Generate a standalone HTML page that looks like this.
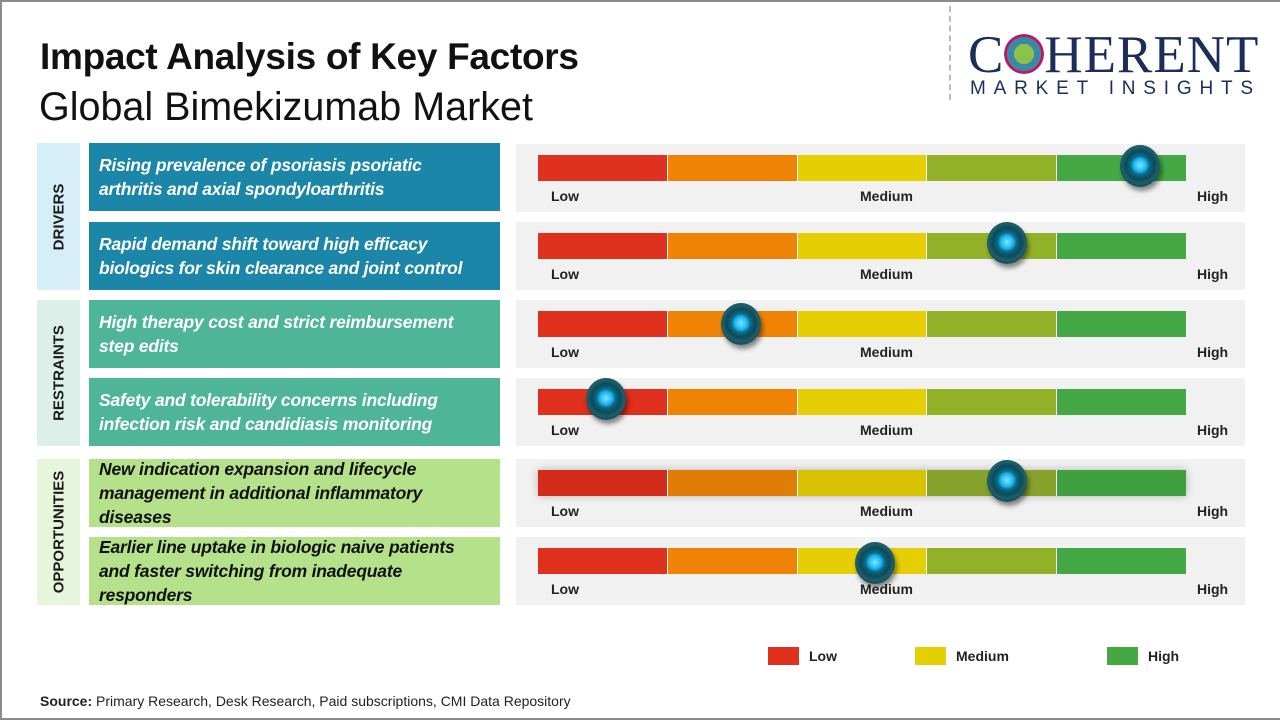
<!DOCTYPE html>
<html><head><meta charset="utf-8"><style>
*{margin:0;padding:0;box-sizing:border-box}
body{width:1280px;height:720px;background:#fff;position:relative;overflow:hidden;font-family:"Liberation Sans",sans-serif}
.frame{position:absolute;left:0;top:0;width:1280px;height:720px;border:2px solid #8a8a8a;border-right:none}
.a{position:absolute}
.title{left:40px;top:36px;font-size:37px;font-weight:bold;color:#111;letter-spacing:-0.3px}
.sub{left:39px;top:85px;font-size:39.5px;color:#111}
.cat{position:absolute;left:37px;width:43px}
.cat span{position:absolute;left:50%;top:50%;transform:translate(-50%,-50%) rotate(-90deg);font-weight:bold;font-size:15px;color:#1a1a1a;white-space:nowrap}
.fac{position:absolute;left:89px;width:411px;height:68px;font-weight:bold;font-style:italic;font-size:17.5px;line-height:24px;padding-left:10px;display:flex;align-items:center;letter-spacing:-0.2px}
.panel{position:absolute;left:516px;width:729px;height:68px;background:#f1f1f1}
.bar{position:absolute;left:22px;top:11px;height:26px;width:648px;display:flex}
.bar div{flex:1;border-right:1px solid #fff}
.bar div:last-child{border-right:none}
.lb{position:absolute;top:44px;font-size:14px;font-weight:bold;color:#222}
.knob{position:absolute;width:40px;height:42px;border-radius:50%;background:radial-gradient(circle at 50% 48%,#7fe6ff 0,#18b3ef 22%,#0a6b8a 32%,#0d4a58 48%,#1f5f6c 62%,#0c3a44 80%,#082a30 100%);box-shadow:2px 4px 5px rgba(0,0,0,.45)}
.leg{position:absolute;top:647px;width:31px;height:18px}
.lt{position:absolute;top:648px;font-size:14px;font-weight:bold;color:#222}
</style></head><body>
<div class="frame"></div>
<div class="a title">Impact Analysis of Key Factors</div>
<div class="a sub">Global Bimekizumab Market</div>
<div class="a" style="left:949px;top:6px;height:94px;border-left:2px dashed #bbb"></div>
<div class="a" style="left:968px;top:29px;font-family:'Liberation Serif',serif;font-size:53px;color:#1b2d5c;letter-spacing:1px;line-height:52px">C<span style="display:inline-block;width:40px;height:40px;vertical-align:-2px;border-radius:50%;background:radial-gradient(circle,#8bc34a 0 35%,#3a87a8 36% 60%,#c2185b 61% 70%,transparent 71%)"></span>HERENT</div>
<div class="a" style="left:970px;top:78px;font-size:19px;color:#1b2d5c;letter-spacing:7.8px">MARKET INSIGHTS</div>

<div class="cat" style="top:143px;height:147px;background:#d6eef8"><span>DRIVERS</span></div>
<div class="cat" style="top:300px;height:146px;background:#dcefe9"><span>RESTRAINTS</span></div>
<div class="cat" style="top:459px;height:146px;background:#e7f5dc"><span>OPPORTUNITIES</span></div>

<div class="fac" style="top:143px;background:#1b86a8;color:#fff">Rising prevalence of psoriasis psoriatic<br>arthritis and axial spondyloarthritis</div>
<div class="fac" style="top:222px;background:#1b86a8;color:#fff">Rapid demand shift toward high efficacy<br>biologics for skin clearance and joint control</div>
<div class="fac" style="top:300px;background:#4eb597;color:#fff">High therapy cost and strict reimbursement<br>step edits</div>
<div class="fac" style="top:378px;background:#4eb597;color:#fff">Safety and tolerability concerns including<br>infection risk and candidiasis monitoring</div>
<div class="fac" style="top:459px;background:#b6e18b;color:#111">New indication expansion and lifecycle<br>management in additional inflammatory<br>diseases</div>
<div class="fac" style="top:537px;background:#b6e18b;color:#111">Earlier line uptake in biologic naive patients<br>and faster switching from inadequate<br>responders</div>

<div class="panel" style="top:144px"><div class="bar"><div style="background:#e0301e"></div><div style="background:#ee8305"></div><div style="background:#e6ce04"></div><div style="background:#93b128"></div><div style="background:#44a845"></div></div><span class="lb" style="left:35px">Low</span><span class="lb" style="left:344px">Medium</span><span class="lb" style="left:681px">High</span><div class="knob" style="left:604px;top:1px"></div></div>
<div class="panel" style="top:222px"><div class="bar"><div style="background:#e0301e"></div><div style="background:#ee8305"></div><div style="background:#e6ce04"></div><div style="background:#93b128"></div><div style="background:#44a845"></div></div><span class="lb" style="left:35px">Low</span><span class="lb" style="left:344px">Medium</span><span class="lb" style="left:681px">High</span><div class="knob" style="left:471px;top:0px"></div></div>
<div class="panel" style="top:300px"><div class="bar"><div style="background:#e0301e"></div><div style="background:#ee8305"></div><div style="background:#e6ce04"></div><div style="background:#93b128"></div><div style="background:#44a845"></div></div><span class="lb" style="left:35px">Low</span><span class="lb" style="left:344px">Medium</span><span class="lb" style="left:681px">High</span><div class="knob" style="left:205px;top:3px"></div></div>
<div class="panel" style="top:378px"><div class="bar"><div style="background:#e0301e"></div><div style="background:#ee8305"></div><div style="background:#e6ce04"></div><div style="background:#93b128"></div><div style="background:#44a845"></div></div><span class="lb" style="left:35px">Low</span><span class="lb" style="left:344px">Medium</span><span class="lb" style="left:681px">High</span><div class="knob" style="left:70px;top:0px"></div></div>
<div class="panel" style="top:459px"><div class="bar" style="box-shadow:0 0 8px rgba(0,0,0,.25)"><div style="background:#d42c1c"></div><div style="background:#e07d06"></div><div style="background:#d8c204"></div><div style="background:#86a22a"></div><div style="background:#40a040"></div></div><span class="lb" style="left:35px">Low</span><span class="lb" style="left:344px">Medium</span><span class="lb" style="left:681px">High</span><div class="knob" style="left:471px;top:1px"></div></div>
<div class="panel" style="top:537px"><div class="bar"><div style="background:#e0301e"></div><div style="background:#ee8305"></div><div style="background:#e6ce04"></div><div style="background:#93b128"></div><div style="background:#44a845"></div></div><span class="lb" style="left:35px">Low</span><span class="lb" style="left:344px">Medium</span><span class="lb" style="left:681px">High</span><div class="knob" style="left:339px;top:5px"></div></div>

<div class="leg" style="left:768px;background:#e0301e"></div><div class="lt" style="left:809px">Low</div>
<div class="leg" style="left:915px;background:#e6ce04"></div><div class="lt" style="left:956px">Medium</div>
<div class="leg" style="left:1107px;background:#44a845"></div><div class="lt" style="left:1148px">High</div>

<div class="a" style="left:40px;top:693px;font-size:14px;color:#222"><b>Source:</b> Primary Research, Desk Research, Paid subscriptions, CMI Data Repository</div>
<div class="a" style="left:0;top:718px;width:1280px;height:2px;background:#8a8a8a"></div>
</body></html>
